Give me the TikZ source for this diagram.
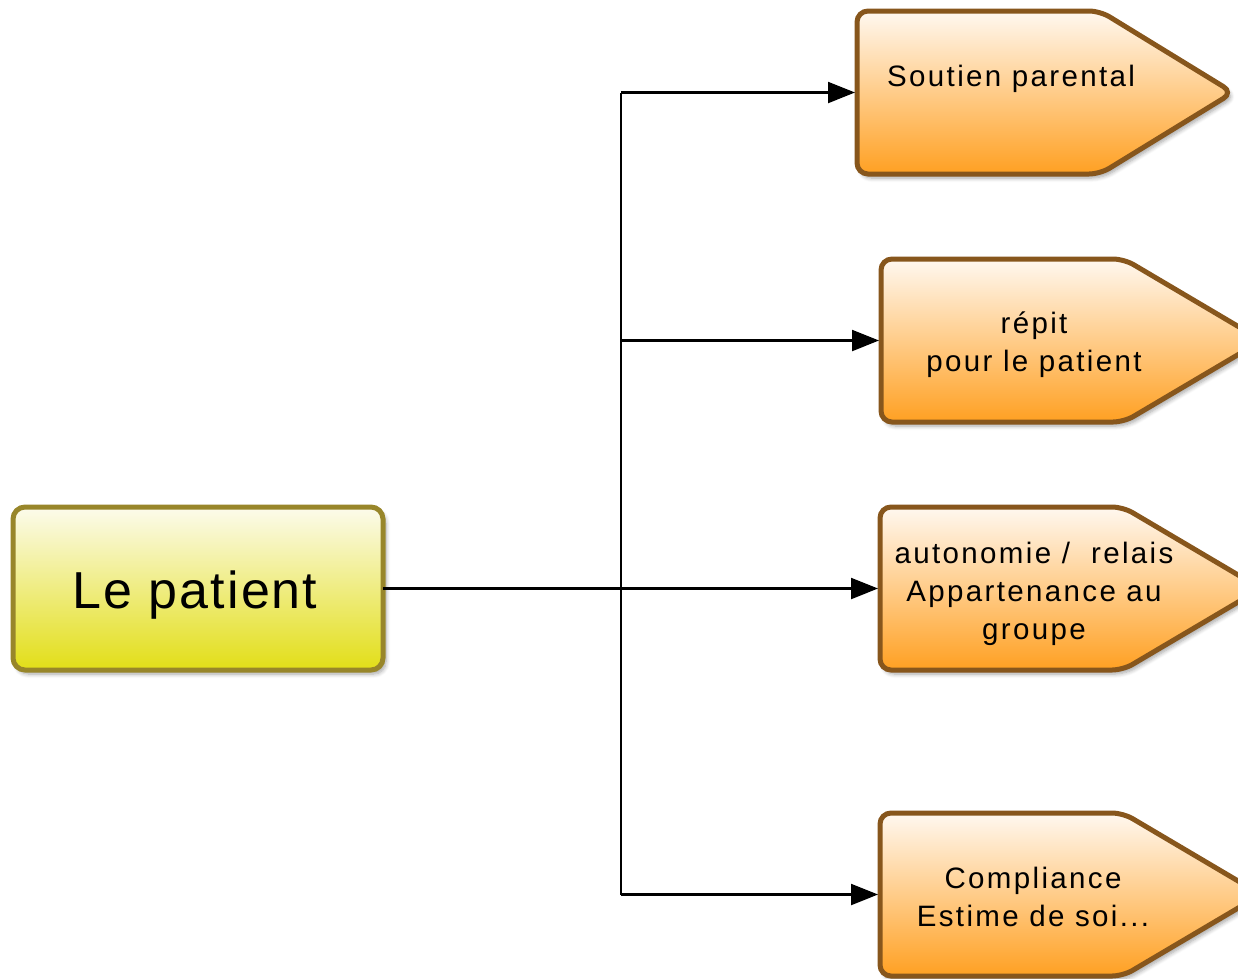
\documentclass[tikz,border=0pt]{standalone}
\usepackage{fontspec}
\setmainfont{Liberation Sans}
\usetikzlibrary{arrows.meta,shadows.blur}

\definecolor{tagline}{RGB}{135,86,28}
\definecolor{tagtop}{RGB}{255,248,240}
\definecolor{tagbot}{RGB}{255,160,34}
\definecolor{boxline}{RGB}{152,134,42}
\definecolor{boxtop}{RGB}{252,251,236}
\definecolor{boxbot}{RGB}{226,222,23}

\tikzset{
  softshadow/.style={blur shadow={shadow xshift=3pt, shadow yshift=-4pt,
      shadow opacity=35, shadow blur steps=6, shadow blur radius=4pt}},
  conn/.style={line width=2.2pt, draw=black},
  arr/.style={conn, -{Triangle[length=27pt,width=21pt]}, shorten >=2pt},
  slot/.style={inner sep=0pt, outer sep=0pt, minimum width=243pt,
      minimum height=163pt, anchor=north west},
  tag/.style={draw=tagline, line width=5pt, top color=tagtop,
      bottom color=tagbot, rounded corners=11pt, softshadow},
  patientbox/.style={draw=boxline, line width=5pt, top color=boxtop,
      bottom color=boxbot, rounded corners=12pt, softshadow,
      minimum width=370pt, minimum height=163pt, inner sep=0pt, outer sep=0pt},
  tagtext/.style={font=\fontsize{29.5}{38}\selectfont\addfontfeature{LetterSpace=8},
      align=center, inner sep=0pt},
  titletext/.style={font=\fontsize{52}{60}\selectfont\addfontfeature{LetterSpace=4},
      inner sep=0pt},
}

% a pointed tag: straight body plus a pointer of the given length
\newcommand\tagat[4]{%
  \node[slot] (#1) at (#2,#3) {};
  \path[tag] (#1.north west) -- (#1.north east) -- ([xshift=#4pt]#1.east)
    -- (#1.south east) -- (#1.south west) -- cycle;
}

\begin{document}
\begin{tikzpicture}[x=1pt,y=-1pt]
  \path[use as bounding box] (0,0) rectangle (1238,978);
  \clip (0,0) rectangle (1238,978);

  % central box
  \node[patientbox] (p) at (198,588.5) {};
  \node[titletext, anchor=base] (pt) at (195,608) {Le patient};

  % target tags
  \tagat{s1}{857}{11}{133}
  \tagat{s2}{881}{259}{138}
  \tagat{s3}{880}{507}{138}
  \tagat{s4}{880}{813}{138}

  % text nodes; with several lines the base anchor sits on the last line
  \node[tagtext, anchor=base west] (t1) at (887,86) {Soutien parental};
  \node[tagtext, anchor=base] (t2) at (1034,371) {répit\\pour le patient};
  \node[tagtext, anchor=base] (t3) at (1034,639)
    {autonomie /~ relais\\Appartenance au\\groupe};
  \node[tagtext, anchor=base] (t4) at (1033,926) {Compliance\\Estime de soi...};

  % connectors
  \coordinate (j) at (621,588.5);
  \draw[conn] (j |- s1.west) -- (j |- s4.west);
  \draw[arr] (p.east) -- (s3.west);
  \draw[arr] (j |- s1.west) -- (s1.west);
  \draw[arr] (j |- s2.west) -- (s2.west);
  \draw[arr] (j |- s4.west) -- (s4.west);
\end{tikzpicture}
\end{document}
